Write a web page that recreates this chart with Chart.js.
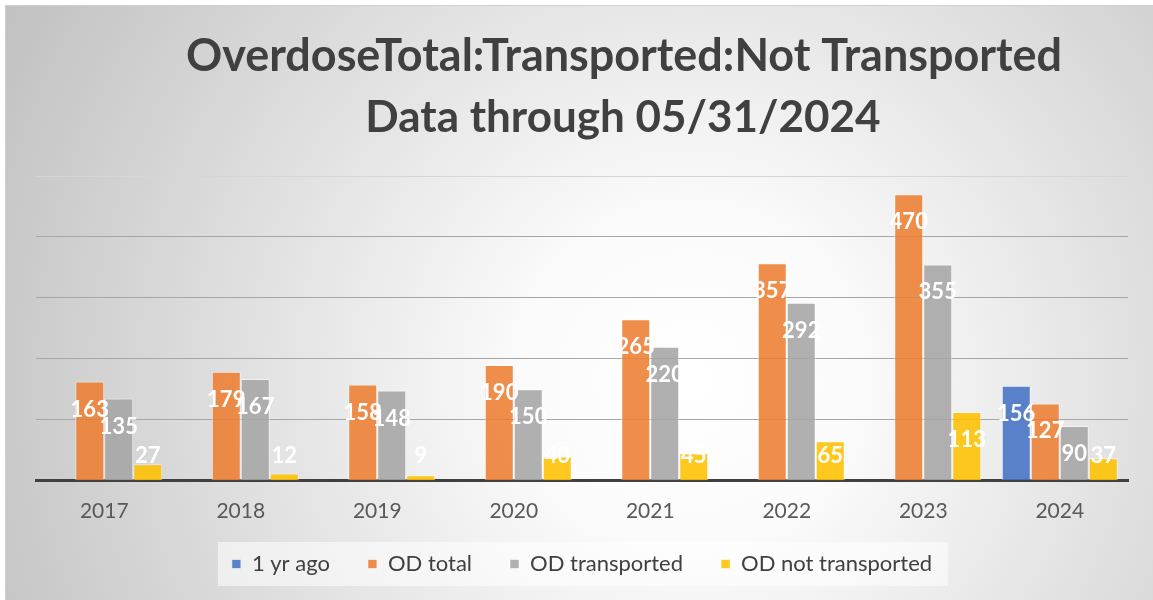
<!DOCTYPE html>
<html>
<head>
<meta charset="utf-8">
<script src="https://cdn.jsdelivr.net/npm/chart.js@4.4.1/dist/chart.umd.min.js"></script>
<style>
  html, body { margin: 0; padding: 0; background: #fff; }
  #wrap { width: 1153px; height: 600px; }
</style>
</head>
<body>
<div id="wrap"><canvas id="odChart" width="1153" height="600"></canvas></div>
<script>
// values
const years = ['2017', '2018', '2019', '2020', '2021', '2022', '2023', '2024'];
const oneYrAgo = [null, null, null, null, null, null, null, 156];
const odTotal = [163, 179, 158, 190, 265, 357, 470, 127];
const odTransported = [135, 167, 148, 150, 220, 292, 355, 90];
const odNotTransported = [27, 12, 9, 40, 45, 65, 113, 37];
const yMax = 500;
const yStep = 100;
const titleLines = ['OverdoseTotal:Transported:Not Transported', 'Data through 05/31/2024'];

const FONT = 'Lato, "Open Sans", sans-serif';
const LEGEND_SIZE = 22;
const LEGEND_PAD = 38;

// gray radial backdrop + thin frame, legend panel, two-line title
const backdrop = {
  id: 'backdrop',
  afterLayout(chart) {
    // pull the legend row up a bit, closer to the year labels
    const lg = chart.legend;
    if (lg) { lg.top -= 9; lg.bottom -= 9; }
  },
  beforeDraw(chart) {
    const ctx = chart.ctx;
    ctx.save();
    ctx.fillStyle = '#ffffff';
    ctx.fillRect(0, 0, chart.width, chart.height);
    const g = ctx.createRadialGradient(690, 380, 0, 690, 380, 820);
    g.addColorStop(0, '#ffffff');
    g.addColorStop(0.2, '#fbfbfb');
    g.addColorStop(1, '#bdbdbd');
    ctx.fillStyle = g;
    ctx.fillRect(5, 5, chart.width - 5, chart.height - 5);
    ctx.strokeStyle = '#d0d0d0';
    ctx.lineWidth = 1;
    ctx.strokeRect(5.5, 5.5, chart.width, chart.height);

    // legend panel
    const lg = chart.legend;
    const boxes = lg && lg.legendHitBoxes;
    if (boxes && boxes.length) {
      const left = Math.min(...boxes.map(b => b.left)) - 14;
      const right = Math.max(...boxes.map(b => b.left + b.width)) + 16;
      const cy = lg.top + LEGEND_PAD + LEGEND_SIZE / 2;
      ctx.fillStyle = 'rgba(255,255,255,0.55)';
      ctx.fillRect(left, cy - 22, right - left, 44);
    }

    // title
    ctx.fillStyle = '#404040';
    ctx.font = 'bold 45px ' + FONT;
    ctx.textAlign = 'center';
    ctx.textBaseline = 'alphabetic';
    ctx.fillText(titleLines[0], 624, 71, 876);
    ctx.font = 'bold 44px ' + FONT;
    ctx.fillText(titleLines[1], 623, 132);
    ctx.restore();
  }
};

// white value labels just inside the top of each bar
const valueLabels = {
  id: 'valueLabels',
  afterDatasetsDraw(chart) {
    const ctx = chart.ctx;
    const base = chart.scales.y.getPixelForValue(0);
    ctx.save();
    ctx.fillStyle = '#ffffff';
    ctx.font = 'bold 22px ' + FONT;
    ctx.textAlign = 'center';
    ctx.textBaseline = 'middle';
    chart.data.datasets.forEach((ds, i) => {
      chart.getDatasetMeta(i).data.forEach((bar, j) => {
        const v = ds.data[j];
        if (v == null) return;
        const y = Math.min(bar.y + 28, base - 25);
        ctx.fillText(String(v), bar.x, y);
      });
    });
    ctx.restore();
  }
};

const ctx = document.getElementById('odChart').getContext('2d');
new Chart(ctx, {
  type: 'bar',
  data: {
    labels: years,
    datasets: [
      { label: '1 yr ago', data: oneYrAgo, backgroundColor: 'rgba(68,114,196,0.88)' },
      { label: 'OD total', data: odTotal, backgroundColor: 'rgba(237,125,49,0.88)' },
      { label: 'OD transported', data: odTransported, backgroundColor: 'rgba(165,165,165,0.88)' },
      { label: 'OD not transported', data: odNotTransported, backgroundColor: 'rgba(255,192,0,0.88)' }
    ]
  },
  options: {
    responsive: false,
    animation: false,
    datasets: {
      bar: {
        categoryPercentage: 0.85,
        barPercentage: 1.0,
        borderWidth: 1,
        borderColor: 'rgba(255,255,255,0.55)'
      }
    },
    layout: { padding: { left: 36, right: 25, top: 176, bottom: 6 } },
    scales: {
      x: {
        grid: { display: false },
        border: { display: true, color: '#404040', width: 3 },
        ticks: { color: '#595959', font: { family: FONT, size: 21 }, padding: 10 },
        afterFit: s => { s.height -= 10; }
      },
      y: {
        min: 0,
        max: yMax,
        ticks: { display: false, stepSize: yStep },
        border: { display: false },
        grid: {
          drawTicks: false,
          color: c => (c.tick && c.tick.value === yMax) ? '#d6d6d6' : '#a6a6a6',
          lineWidth: 1
        }
      }
    },
    plugins: {
      legend: {
        position: 'bottom',
        labels: {
          color: '#404040',
          font: { family: FONT, size: LEGEND_SIZE },
          boxWidth: 9,
          boxHeight: 9,
          padding: LEGEND_PAD
        }
      },
      title: { display: false },
      tooltip: { enabled: false }
    }
  },
  plugins: [backdrop, valueLabels]
});
</script>
</body>
</html>
